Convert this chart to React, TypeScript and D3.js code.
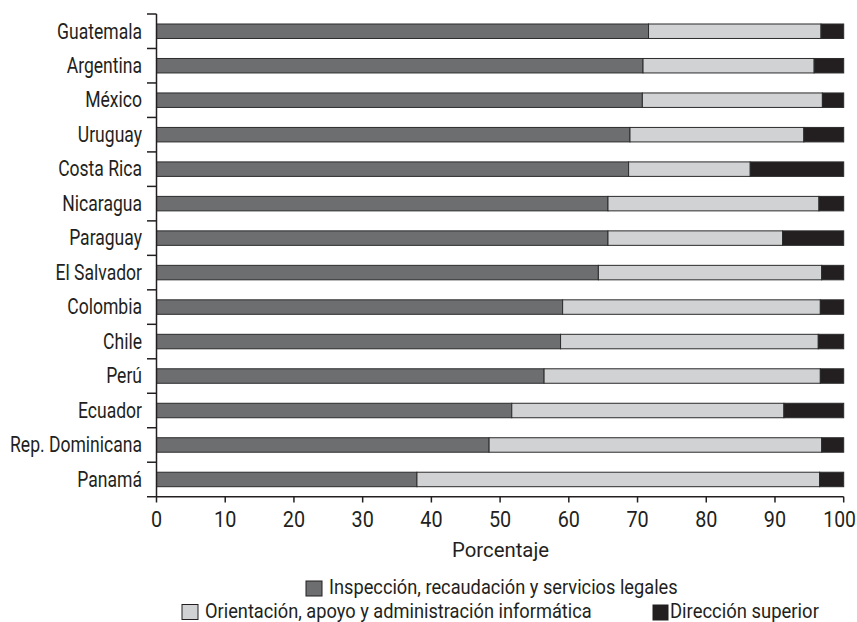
import React from "react";
import * as d3 from "d3";

const countries = ["Guatemala","Argentina","México","Uruguay","Costa Rica","Nicaragua","Paraguay","El Salvador","Colombia","Chile","Perú","Ecuador","Rep. Dominicana","Panamá"];
const inspeccion = [71.6,70.8,70.7,68.9,68.7,65.7,65.7,64.3,59.1,58.8,56.4,51.7,48.4,37.9];
const orientacion = [25.1,24.9,26.2,25.3,17.7,30.7,25.4,32.5,37.5,37.5,40.2,39.6,48.4,58.6];
const direccion = [3.3,4.3,3.1,5.8,13.6,3.6,8.9,3.2,3.4,3.7,3.4,8.7,3.2,3.5];
const xTicks = [0,10,20,30,40,50,60,70,80,90,100];
const seriesNames = ["Inspección, recaudación y servicios legales","Orientación, apoyo y administración informática","Dirección superior"];
const colors = ["#6d6e70","#d1d2d4","#231f20"];

const W = 857, H = 622;
const FONT = "Roboto, sans-serif";
const INK = "#231f20";

function CText({x, y, size, sx, anchor = "start", children}: any) {
  return (
    <text transform={`translate(${x},${y}) scale(${sx},1)`} textAnchor={anchor} fontSize={size} fill={INK} fontFamily={FONT}>
      {children}
    </text>
  );
}

export default function App() {
  const x = d3.scaleLinear().domain([0,100]).range([156.5,843.7]);
  const y = d3.scaleBand().domain(countries).range([14,496.7]).paddingInner(0.58).paddingOuter(0.29);
  const band = d3.scaleBand().domain(countries).range([14,496.7]);
  const rows = countries.map((c,i)=>({c, vals:[inspeccion[i],orientacion[i],direccion[i]]}));
  return (
    <svg width={W} height={H} style={{position:"absolute",left:0,top:0,background:"#fff"}}>
      {rows.map((r)=>{
        let acc = 0;
        return r.vals.map((v,k)=>{
          const x0 = x(acc); acc += v; const x1 = k===2 ? x(100) : x(acc);
          return <rect key={r.c+k} x={x0} y={y(r.c)} width={x1-x0} height={y.bandwidth()} fill={colors[k]} stroke="#2b2b2b" strokeWidth={1}/>;
        });
      })}
      <line x1={156.5} x2={156.5} y1={14} y2={496.7} stroke={INK} strokeWidth={1.5}/>
      {countries.map((c)=> <line key={"t"+c} x1={147} x2={156.5} y1={band(c)} y2={band(c)} stroke={INK} strokeWidth={1.5}/>)}
      <line x1={147} x2={843.7} y1={496.7} y2={496.7} stroke={INK} strokeWidth={1.5}/>
      {xTicks.map(t=> <g key={"x"+t}>
        <line x1={x(t)} x2={x(t)} y1={496.7} y2={502.5} stroke={INK} strokeWidth={1.5}/>
        {t === 100
          ? <CText x={856} y={527} size={22} sx={0.88} anchor="end">{t}</CText>
          : <CText x={x(t)} y={527} size={22} sx={0.9} anchor="middle">{t}</CText>}
      </g>)}
      {countries.map(c=> <CText key={"l"+c} x={142} y={band(c)!+band.bandwidth()/2+7.3} size={22.5} sx={0.78} anchor="end">{c}</CText>)}
      <CText x={500.5} y={556.5} size={21} sx={0.97} anchor="middle">Porcentaje</CText>
      <rect x={306} y={581} width={16} height={15} fill={colors[0]} stroke={INK} strokeWidth={1}/>
      <CText x={329} y={594} size={20.5} sx={0.89}>{seriesNames[0]}</CText>
      <rect x={182} y={604.5} width={16} height={15} fill={colors[1]} stroke={INK} strokeWidth={1}/>
      <CText x={205} y={618} size={20.5} sx={0.89}>{seriesNames[1]}</CText>
      <rect x={653} y={605} width={15} height={15} fill={colors[2]} stroke={INK} strokeWidth={1}/>
      <CText x={670} y={618} size={20.5} sx={0.9}>{seriesNames[2]}</CText>
    </svg>
  );
}
